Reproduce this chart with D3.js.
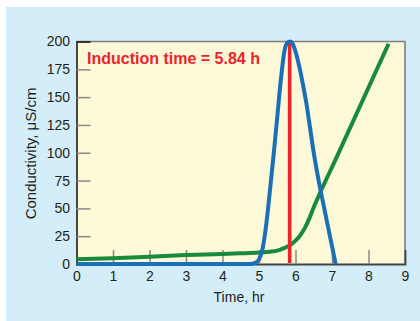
<!DOCTYPE html>
<html>
<head>
<meta charset="utf-8">
<script src="https://cdn.jsdelivr.net/npm/d3@7"></script>
<style>
  html, body { margin: 0; padding: 0; background: #ffffff; }
  svg { display: block; font-family: "Liberation Sans", Arial, Helvetica, sans-serif; }
</style>
</head>
<body>
<svg id="chart" width="420" height="321"></svg>
<script>
// Conductivity readings over time (hours, µS/cm)
const oxidationTime = [0, 1, 2, 3, 4, 4.5, 5, 5.3, 5.5, 5.7, 5.85, 6.0, 6.11, 6.25, 6.38, 6.5, 6.66, 7.1, 8.55];
const oxidationCond = [4.2, 5.2, 6.5, 8, 9, 9.6, 10.3, 11, 12, 14.5, 17, 21, 25, 32, 41, 51, 63, 94, 198];

// Derivative curve of conductivity
const derivTime = [0, 4.75, 4.9, 5.0, 5.1, 5.2, 5.3, 5.4, 5.5, 5.6, 5.7, 5.78, 5.85, 5.92, 6.0, 6.1, 6.2, 6.3, 6.4, 6.5, 6.6, 6.7, 6.8, 6.9, 7.0, 7.1];
const derivCond = [0, 0, 1, 4, 14, 36, 66, 98, 132, 166, 192, 199, 200, 198, 191, 178, 162, 144, 122, 100, 81, 64, 48, 32, 16, 0];

const inductionTime = 5.84;
const xTicks = [0, 1, 2, 3, 4, 5, 6, 7, 8, 9];
const yTicks = [0, 25, 50, 75, 100, 125, 150, 175, 200];

const svg = d3.select("#chart");

// outer tinted panel
svg.append("rect")
  .attr("x", 6).attr("y", 7).attr("width", 414).attr("height", 314)
  .attr("fill", "#d4eef9");

const x = d3.scaleLinear().domain([0, 9]).range([76.5, 405]);
const y = d3.scaleLinear().domain([0, 200]).range([264, 41.5]);

// plot background
svg.append("rect")
  .attr("x", x(0)).attr("y", y(200))
  .attr("width", x(9) - x(0)).attr("height", y(0) - y(200))
  .attr("fill", "#fcf8d8");

// top and right frame
svg.append("path")
  .attr("d", `M${x(0)},${y(200)}H${x(9)}V${y(0)}`)
  .attr("fill", "none").attr("stroke", "#7d7d7d").attr("stroke-width", 1.6);

// y axis
const yAxis = svg.append("g")
  .attr("transform", `translate(${x(0)},0)`)
  .call(d3.axisLeft(y).tickValues(yTicks).tickSize(-14).tickPadding(6.5));
yAxis.select(".domain").attr("stroke", "#333").attr("stroke-width", 1.8);
yAxis.selectAll(".tick line")
  .attr("stroke", "#8a8a8a").attr("stroke-width", 1.5)
  .attr("display", d => (d === 0 || d === 200) ? "none" : null);
yAxis.selectAll(".tick text")
  .attr("fill", "#231f20").attr("font-size", 14)
  .attr("font-family", "Liberation Sans, Arial, sans-serif");

// x axis
const xAxis = svg.append("g")
  .attr("transform", `translate(0,${y(0)})`)
  .call(d3.axisBottom(x).tickValues(xTicks).tickSize(-14).tickPadding(7));
xAxis.select(".domain").attr("stroke", "#444").attr("stroke-width", 1.8);
xAxis.selectAll(".tick line")
  .attr("stroke", "#8a8a8a").attr("stroke-width", 1.5)
  .attr("display", d => (d === 0 || d === 9) ? "none" : null);
xAxis.selectAll(".tick text")
  .attr("fill", "#231f20").attr("font-size", 14)
  .attr("font-family", "Liberation Sans, Arial, sans-serif");

// axis titles
svg.append("text")
  .attr("x", 239).attr("y", 302)
  .attr("text-anchor", "middle").attr("font-size", 14).attr("fill", "#231f20")
  .text("Time, hr");

svg.append("text")
  .attr("transform", "translate(35.5,153.5) rotate(-90)")
  .attr("text-anchor", "middle").attr("font-size", 15).attr("fill", "#231f20")
  .text("Conductivity, μS/cm");

const line = d3.line()
  .x(d => x(d[0]))
  .y(d => y(d[1]))
  .curve(d3.curveMonotoneX);

// conductivity curve
svg.append("path")
  .datum(oxidationTime.map((t, i) => [t, oxidationCond[i]]))
  .attr("d", line)
  .attr("fill", "none").attr("stroke", "#178a3c").attr("stroke-width", 4)
  .attr("stroke-linejoin", "round");

// induction time marker
svg.append("line")
  .attr("x1", x(inductionTime)).attr("x2", x(inductionTime))
  .attr("y1", y(0) - 1).attr("y2", y(200))
  .attr("stroke", "#ee2229").attr("stroke-width", 3.6);

// derivative curve
svg.append("path")
  .datum(derivTime.map((t, i) => [t, derivCond[i]]))
  .attr("d", line)
  .attr("fill", "none").attr("stroke", "#1b6fb8").attr("stroke-width", 4)
  .attr("stroke-linejoin", "round");

// annotation
svg.append("text")
  .attr("x", 87).attr("y", 64)
  .attr("font-size", 16).attr("font-weight", "bold").attr("fill", "#ee2229")
  .text(`Induction time = ${inductionTime} h`);
</script>
</body>
</html>
